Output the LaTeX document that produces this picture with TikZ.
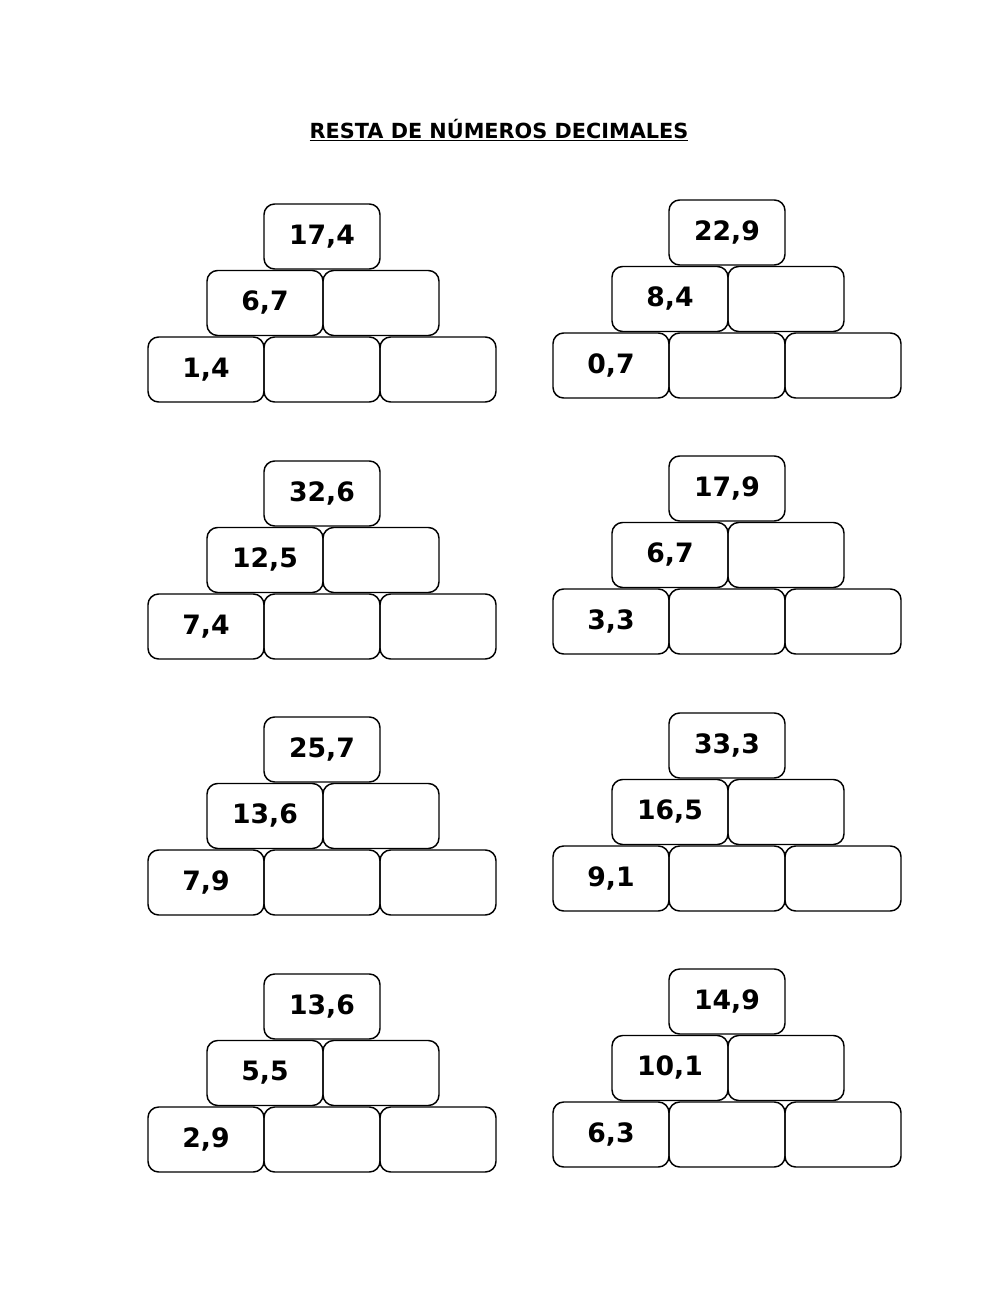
\documentclass[tikz,border=0pt]{standalone}
\usepackage{fontspec}
\setmainfont{DejaVu Sans}
\tikzset{every picture/.style={line width=1.1pt}}
\tikzset{caja/.style={draw, rounded corners=8pt, minimum width=87pt, minimum height=48.75pt, inner sep=0pt, font=\bfseries\fontsize{20}{23}\selectfont, text depth=0pt}}
% one pyramid: #1 name, #2 x of bottom-left, #3 y of top, #4 top, #5 middle, #6 bottom
\newcommand{\piramide}[6]{%
  \node[caja] (#1t) at (#2+174,#3+32.5) {\raisebox{3pt}{#4}};
  \node[caja] (#1m1) at (#2+117,#3+99) {\raisebox{3pt}{#5}};
  \node[caja] (#1m2) at (#2+233,#3+99) {};
  \node[caja] (#1b1) at (#2+58,#3+165.5) {\raisebox{3pt}{#6}};
  \node[caja] (#1b2) at (#2+174,#3+165.5) {};
  \node[caja] (#1b3) at (#2+290,#3+165.5) {};
}
\begin{document}
\begin{tikzpicture}[x=0.75pt,y=-0.75pt]
\useasboundingbox (0,0) rectangle (1000,1291);

% Title
\node (titulo) at (499,130) {\bfseries\fontsize{15.6}{18}\selectfont\underline{RESTA DE NÚMEROS DECIMALES}};

% left column
\piramide{a}{148}{204}{17,4}{6,7}{1,4}
\piramide{b}{148}{461}{32,6}{12,5}{7,4}
\piramide{c}{148}{717}{25,7}{13,6}{7,9}
\piramide{d}{148}{974}{13,6}{5,5}{2,9}
% right column
\piramide{e}{553}{200}{22,9}{8,4}{0,7}
\piramide{f}{553}{456}{17,9}{6,7}{3,3}
\piramide{g}{553}{713}{33,3}{16,5}{9,1}
\piramide{h}{553}{969}{14,9}{10,1}{6,3}

\end{tikzpicture}
\end{document}
